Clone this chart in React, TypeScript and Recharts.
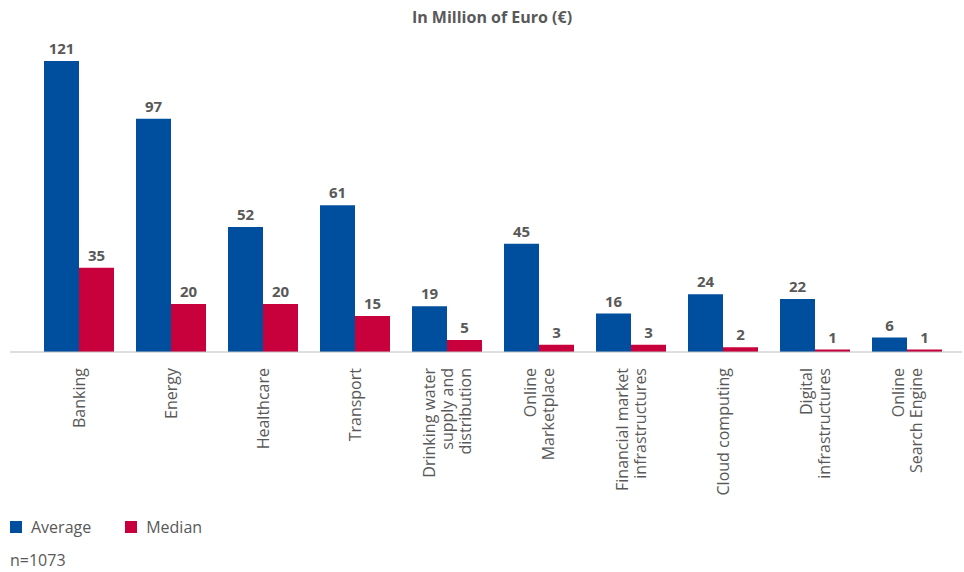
import React from 'react';
import { BarChart, Bar, XAxis, YAxis, Legend, LabelList } from 'recharts';

const categories = [
  'Banking',
  'Energy',
  'Healthcare',
  'Transport',
  'Drinking water\nsupply and\ndistribution',
  'Online\nMarketplace',
  'Financial market\ninfrastructures',
  'Cloud computing',
  'Digital\ninfrastructures',
  'Online\nSearch Engine',
];
const averageValues = [121, 97, 52, 61, 19, 45, 16, 24, 22, 6];
const medianValues = [35, 20, 20, 15, 5, 3, 3, 2, 1, 1];

const data = categories.map((c, i) => ({ name: c, average: averageValues[i], median: medianValues[i] }));

const BLUE = '#004F9E';
const RED = '#C8003B';
const TEXT = '#595959';
const FONT = "'Open Sans', sans-serif";

const CategoryTick = (props: any) => {
  const { x, y, payload } = props;
  const lines = String(payload.value).split('\n');
  const n = lines.length;
  return (
    <g transform={`translate(${x},${y + 16}) rotate(-90)`}>
      <text textAnchor="end" fill={TEXT} fontSize={16} fontFamily={FONT}>
        {lines.map((l, i) => (
          <tspan key={i} x={0} y={6 + (i - (n - 1) / 2) * 18}>
            {l}
          </tspan>
        ))}
      </text>
    </g>
  );
};

const LegendContent = () => (
  <div style={{ height: 64, fontFamily: FONT, color: TEXT, fontSize: 16, position: 'relative' }}>
    <div style={{ position: 'absolute', top: 8, left: 0, display: 'flex', alignItems: 'center' }}>
      <span style={{ width: 12, height: 12, background: BLUE, display: 'inline-block', marginRight: 9 }} />
      <span style={{ marginRight: 34 }}>Average</span>
      <span style={{ width: 12, height: 12, background: RED, display: 'inline-block', marginRight: 9 }} />
      <span>Median</span>
    </div>
    <div style={{ position: 'absolute', top: 41, left: 0 }}>n=1073</div>
  </div>
);

export default function App() {
  return (
    <div style={{ position: 'absolute', left: 0, top: 0, width: 964, height: 572, background: '#fff' }}>
      <div
        style={{
          position: 'absolute',
          top: 6,
          left: 0,
          width: 984,
          textAlign: 'center',
          fontFamily: FONT,
          fontWeight: 700,
          fontSize: 16,
          color: TEXT,
        }}
      >
        In Million of Euro (€)
      </div>
      <BarChart
        width={964}
        height={572}
        data={data}
        margin={{ top: 61, right: 2, left: 10, bottom: 0 }}
        barGap={0}
        barSize={35}
      >
        <XAxis
          dataKey="name"
          interval={0}
          tickLine={false}
          tickSize={0}
          tickMargin={0}
          height={156}
          padding={{ left: 23, right: 9 }}
          axisLine={{ stroke: '#BFBFBF', strokeWidth: 1 }}
          tick={<CategoryTick />}
        />
        <YAxis hide width={0} domain={[0, 121]} />
        <Legend verticalAlign="bottom" align="left" content={<LegendContent />} wrapperStyle={{ left: 10, bottom: 0 }} />
        <Bar dataKey="average" name="Average" fill={BLUE} isAnimationActive={false}>
          <LabelList dataKey="average" position="top" offset={7} fill={TEXT} fontSize={15} fontWeight={700} fontFamily={FONT} />
        </Bar>
        <Bar dataKey="median" name="Median" fill={RED} isAnimationActive={false}>
          <LabelList dataKey="median" position="top" offset={7} fill={TEXT} fontSize={15} fontWeight={700} fontFamily={FONT} />
        </Bar>
      </BarChart>
    </div>
  );
}
